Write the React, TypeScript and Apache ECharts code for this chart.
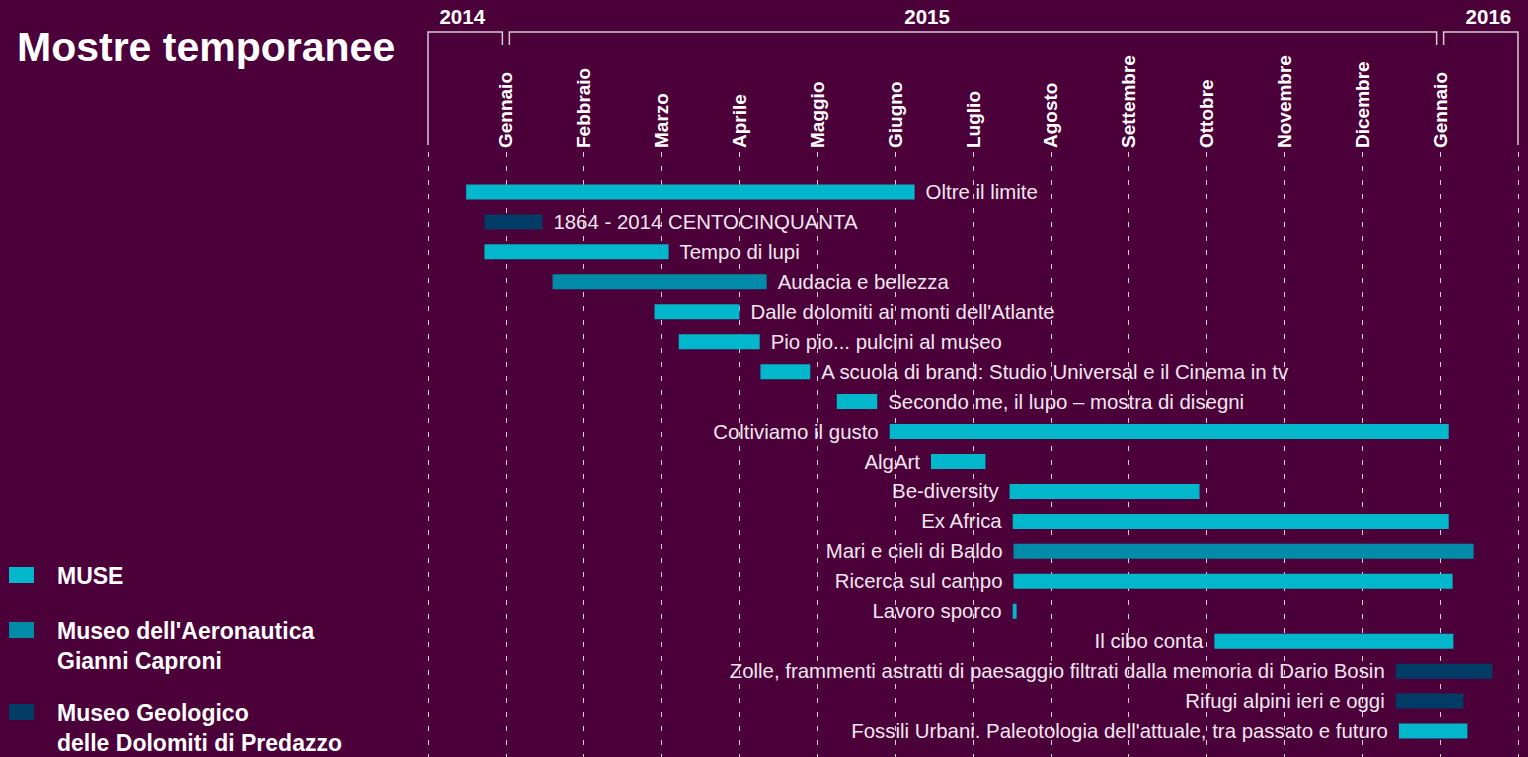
import React, { useEffect, useRef } from "react";
import * as echarts from "echarts";

// Month grid: 0 = start of Dec 2014 ... 13 = Jan 2016, 14 = Feb 2016
const monthLabels = ["", "Gennaio", "Febbraio", "Marzo", "Aprile", "Maggio", "Giugno", "Luglio", "Agosto", "Settembre", "Ottobre", "Novembre", "Dicembre", "Gennaio", ""];

const years = ["2014", "2015", "2016"];
const yearFrom = [0, 1, 13];
const yearTo = [1, 13, 14];
const yearLabelAt = [0.44, 6.41, 13.62];

const museums = ["MUSE", "Museo dell'Aeronautica\nGianni Caproni", "Museo Geologico\ndelle Dolomiti di Predazzo"];
const museumColors = ["#00b7cc", "#008ca8", "#003c66"];

const exhibitions = [
  "Oltre il limite",
  "1864 - 2014 CENTOCINQUANTA",
  "Tempo di lupi",
  "Audacia e bellezza",
  "Dalle dolomiti ai monti dell'Atlante",
  "Pio pio... pulcini al museo",
  "A scuola di brand: Studio Universal e il Cinema in tv",
  "Secondo me, il lupo \u2013 mostra di disegni",
  "Coltiviamo il gusto",
  "AlgArt",
  "Be-diversity",
  "Ex Africa",
  "Mari e cieli di Baldo",
  "Ricerca sul campo",
  "Lavoro sporco",
  "Il cibo conta",
  "Zolle, frammenti astratti di paesaggio filtrati dalla memoria di Dario Bosin",
  "Rifugi alpini ieri e oggi",
  "Fossili Urbani. Paleotologia dell'attuale, tra passato e futuro",
];
const startMonth = [0.49, 0.725, 0.725, 1.6, 2.91, 3.22, 4.27, 5.25, 5.93, 6.46, 7.47, 7.51, 7.52, 7.52, 7.51, 10.1, 12.43, 12.43, 12.47];
const endMonth = [6.25, 1.47, 3.09, 4.35, 4.0, 4.26, 4.91, 5.77, 13.11, 7.16, 9.91, 13.11, 13.43, 13.16, 7.56, 13.17, 13.67, 13.3, 13.35];
const museumOf = [0, 2, 0, 1, 0, 0, 0, 0, 0, 0, 0, 0, 1, 0, 0, 0, 2, 2, 0];
const labelSide = ["right", "right", "right", "right", "right", "right", "right", "right", "left", "left", "left", "left", "left", "left", "left", "left", "left", "left", "left"];

const FONT = '"Liberation Sans", Arial, Helvetica, sans-serif';
const BG = "#4b0039";
const LINE = "#d9c9d4";

export default function App() {
  const ref = useRef<HTMLDivElement>(null);
  useEffect(() => {
    document.body.style.margin = "0";
    document.body.style.background = BG;
    const chart = echarts.init(ref.current!, null, { renderer: "svg" });
    const data = exhibitions.map((_, i) => [i, startMonth[i], endMonth[i], museumOf[i]]);
    const gridL = 428;
    const gridR = 10;
    chart.setOption({
      animation: false,
      backgroundColor: BG,
      grid: [
        { left: gridL, right: gridR, top: 152, bottom: 0 },
        { left: gridL, right: gridR, top: 177, height: 569 },
      ],
      xAxis: [
        {
          type: "value", gridIndex: 0, position: "top", min: 0, max: 14, interval: 1,
          axisLine: { show: false }, axisTick: { show: false },
          axisLabel: {
            rotate: 90, margin: 4, color: "#ffffff", fontWeight: "bold", fontSize: 19, fontFamily: FONT,
            formatter: (v: number) => monthLabels[Math.round(v)] || "",
          },
          splitLine: { show: true, lineStyle: { color: "rgba(255,255,255,0.8)", width: 1, type: [5, 9] } },
        },
        {
          type: "value", gridIndex: 1, min: 0, max: 14, interval: 1,
          axisLine: { show: false }, axisTick: { show: false }, axisLabel: { show: false }, splitLine: { show: false },
        },
      ],
      yAxis: [
        { type: "value", gridIndex: 0, show: false, min: 0, max: 1 },
        { type: "category", gridIndex: 1, data: exhibitions, inverse: true, show: false },
      ],
      series: [
        {
          type: "custom", xAxisIndex: 1, yAxisIndex: 1,
          encode: { x: [1, 2], y: 0 },
          data,
          renderItem: (params: any, api: any) => {
            const i = params.dataIndex;
            const row = api.value(0);
            const a = api.coord([api.value(1), row]);
            const b = api.coord([api.value(2), row]);
            const h = 15;
            const right = labelSide[i] === "right";
            return {
              type: "group",
              children: [
                {
                  type: "rect",
                  shape: { x: a[0], y: a[1] - h / 2, width: Math.max(b[0] - a[0], 2), height: h },
                  style: { fill: museumColors[api.value(3)] },
                },
                {
                  type: "text",
                  style: {
                    text: exhibitions[i],
                    x: right ? b[0] + 11 : a[0] - 11,
                    y: a[1],
                    align: right ? "left" : "right",
                    verticalAlign: "middle",
                    fill: "#f1e6ef",
                    fontSize: 20.4,
                    fontFamily: FONT,
                  },
                },
              ],
            };
          },
        },
      ],
    });

    const px = (v: number) => chart.convertToPixel({ xAxisIndex: 0 }, v) as number;
    const graphics: any[] = [];
    graphics.push({
      type: "text",
      style: {
        text: "Mostre temporanee", x: 17, y: 47, fill: "#ffffff", fontSize: 41, fontWeight: "bold", fontFamily: FONT,
        verticalAlign: "middle",
      },
    });
    const yTop = 32, yShort = 45, yTall = 145, gap = 3.5;
    years.forEach((yr, k) => {
      const x0 = px(yearFrom[k]) + (k === 0 ? 0 : gap);
      const x1 = px(yearTo[k]) - (k === years.length - 1 ? 0 : gap);
      graphics.push({
        type: "polyline",
        shape: {
          points: [
            [x0, k === 0 ? yTall : yShort],
            [x0, yTop],
            [x1, yTop],
            [x1, k === years.length - 1 ? yTall : yShort],
          ],
        },
        style: { stroke: LINE, lineWidth: 1.5, fill: null },
      });
      graphics.push({
        type: "text",
        style: {
          text: yr, x: px(yearLabelAt[k]), y: 16, align: "center", verticalAlign: "middle",
          fill: "#ffffff", fontSize: 20.5, fontWeight: "bold", fontFamily: FONT,
        },
      });
    });
    const legendY = [575, 630, 712];
    museums.forEach((m, k) => {
      graphics.push({
        type: "rect",
        shape: { x: 9, y: legendY[k] - 8, width: 25, height: 16 },
        style: { fill: museumColors[k] },
      });
      m.split("\n").forEach((line, j) => {
        graphics.push({
          type: "text",
          style: {
            text: line, x: 57, y: legendY[k] + 1 + j * 30, align: "left", verticalAlign: "middle",
            fill: "#ffffff", fontSize: 23, fontWeight: "bold", fontFamily: FONT,
          },
        });
      });
    });
    chart.setOption({ graphic: graphics });
    return () => chart.dispose();
  }, []);
  return <div ref={ref} style={{ position: "fixed", left: 0, top: 0, width: 1528, height: 757 }} />;
}
